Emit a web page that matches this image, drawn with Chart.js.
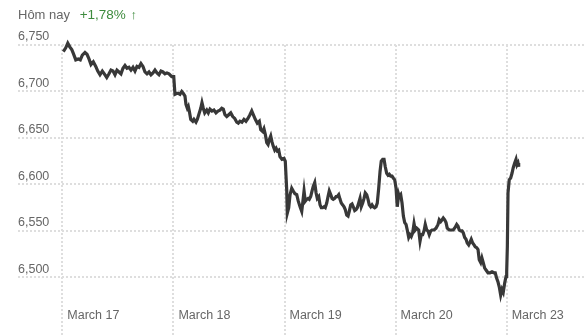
<!DOCTYPE html>
<html>
<head>
<meta charset="utf-8">
<script src="https://cdn.jsdelivr.net/npm/chart.js@4.4.1/dist/chart.umd.min.js"></script>
<style>
  html, body { margin: 0; padding: 0; background: #fff; }
  #wrap { position: relative; width: 586px; height: 336px; }
  #head {
    position: absolute; left: 18px; top: 6px;
    font-family: "Liberation Sans", Arial, sans-serif; font-size: 13px; line-height: 18px;
    color: #666; white-space: nowrap;
  }
  #head .chg { color: #3d8b3d; margin-left: 6px; font-size: 13.5px; }
  #head .arr { font-size: 13px; font-weight: bold; margin-left: 1px; }
</style>
</head>
<body>
<div id="wrap">
  <canvas id="chart"></canvas>
  <div id="head">Hôm nay <span class="chg">+1,78% <span class="arr">&#8593;</span></span></div>
</div>
<script>
// day labels (tick at the open of each trading day)
const days = ['March 17', 'March 18', 'March 19', 'March 20', 'March 23'];
const yTicks = [6500, 6550, 6600, 6650, 6700, 6750];

// time in trading days since March 17 open
const times = [
  0.009, 0.031, 0.049, 0.067, 0.085, 0.099, 0.121, 0.144, 0.162, 0.180, 0.204, 0.222, 0.240, 0.258,
  0.279, 0.301, 0.319, 0.339, 0.360, 0.378, 0.400, 0.420, 0.438, 0.456, 0.474, 0.492, 0.510, 0.528,
  0.546, 0.564, 0.582, 0.600, 0.618, 0.636, 0.654, 0.672, 0.690, 0.708, 0.726, 0.744, 0.762, 0.780,
  0.798, 0.816, 0.834, 0.852, 0.870, 0.888, 0.906, 0.924, 0.942, 0.960, 0.985, 1.003,
  1.014, 1.032, 1.044, 1.059, 1.075, 1.089, 1.104, 1.113, 1.125, 1.134, 1.143, 1.156, 1.174, 1.185,
  1.203, 1.215, 1.233, 1.246, 1.257, 1.269, 1.282, 1.300, 1.314, 1.329, 1.347, 1.365, 1.383, 1.401,
  1.419, 1.435, 1.449, 1.464, 1.480, 1.498, 1.516, 1.534, 1.552, 1.570, 1.584, 1.599, 1.617, 1.635,
  1.653, 1.671, 1.689, 1.705, 1.719, 1.737, 1.755, 1.773, 1.786, 1.804, 1.815, 1.827, 1.840, 1.852,
  1.863, 1.876, 1.887, 1.899, 1.912, 1.924, 1.935, 1.948, 1.959, 1.977, 1.995, 2.007, 2.020,
  2.025, 2.038, 2.050, 2.065, 2.079, 2.094, 2.110, 2.124, 2.140, 2.155, 2.164, 2.176, 2.187, 2.200,
  2.212, 2.223, 2.236, 2.248, 2.259, 2.272, 2.284, 2.295, 2.308, 2.320, 2.331, 2.344, 2.356, 2.367,
  2.380, 2.392, 2.403, 2.416, 2.428, 2.439, 2.452, 2.464, 2.475, 2.488, 2.500, 2.511, 2.524, 2.536,
  2.547, 2.560, 2.572, 2.583, 2.596, 2.608, 2.619, 2.632, 2.644, 2.655, 2.668, 2.680, 2.691, 2.704,
  2.716, 2.727, 2.740, 2.752, 2.763, 2.776, 2.788, 2.799, 2.812, 2.824, 2.835, 2.848, 2.860, 2.871,
  2.884, 2.896, 2.907, 2.920, 2.932, 2.943, 2.956, 2.968, 2.979, 2.992, 3.004, 3.015, 3.028,
  3.033, 3.046, 3.058, 3.070, 3.082, 3.094, 3.105, 3.118, 3.130, 3.141, 3.154, 3.166, 3.177, 3.190,
  3.208, 3.220, 3.231, 3.244, 3.256, 3.267, 3.280, 3.292, 3.303, 3.316, 3.328, 3.346, 3.364, 3.382,
  3.393, 3.406, 3.418, 3.429, 3.442, 3.454, 3.465, 3.483, 3.501, 3.519, 3.537, 3.550, 3.562, 3.573,
  3.586, 3.598, 3.609, 3.622, 3.634, 3.645, 3.658, 3.670, 3.681, 3.694, 3.706, 3.717, 3.730, 3.742,
  3.753, 3.766, 3.777, 3.789, 3.802, 3.814, 3.832, 3.850, 3.868, 3.886, 3.897, 3.910, 3.922, 3.933,
  3.946, 3.958, 3.969, 3.982, 3.994,
  4.000, 4.006, 4.012, 4.023, 4.036, 4.048, 4.059, 4.072, 4.084, 4.093, 4.102, 4.108
];

// S&P 500 level at each time
const prices = [
  6743, 6747, 6752, 6748, 6745, 6741, 6734, 6735, 6734, 6739, 6742, 6740, 6735, 6729,
  6732, 6727, 6722, 6718, 6722, 6719, 6715, 6719, 6723, 6722, 6718, 6723, 6721, 6719,
  6725, 6728, 6725, 6726, 6723, 6726, 6722, 6727, 6726, 6730, 6727, 6721, 6719, 6721,
  6718, 6720, 6723, 6720, 6718, 6722, 6721, 6719, 6720, 6719, 6716, 6716,
  6697, 6698, 6698, 6697, 6700, 6698, 6695, 6686, 6682, 6684, 6679, 6670, 6668, 6670,
  6667, 6670, 6677, 6682, 6688, 6682, 6677, 6680, 6677, 6681, 6679, 6680, 6677, 6679,
  6680, 6682, 6681, 6675, 6673, 6675, 6677, 6673, 6671, 6667, 6666, 6668, 6667, 6670,
  6668, 6671, 6675, 6679, 6675, 6670, 6666, 6668, 6659, 6657, 6660, 6654, 6645, 6643,
  6648, 6652, 6646, 6641, 6637, 6639, 6636, 6637, 6630, 6627, 6628, 6625, 6594,
  6569, 6575, 6589, 6596, 6593, 6590, 6589, 6582, 6576, 6571, 6580, 6593, 6582, 6584,
  6585, 6584, 6587, 6593, 6598, 6602, 6591, 6585, 6587, 6578, 6575, 6575, 6576, 6575,
  6580, 6587, 6593, 6589, 6585, 6584, 6585, 6587, 6587, 6589, 6584, 6580, 6578, 6576,
  6573, 6567, 6566, 6571, 6578, 6579, 6576, 6572, 6573, 6575, 6580, 6585, 6576, 6580,
  6585, 6591, 6589, 6584, 6578, 6576, 6578, 6576, 6575, 6576, 6580, 6596, 6614, 6625,
  6627, 6627, 6619, 6612, 6610, 6611, 6609, 6609, 6607, 6605, 6596, 6576, 6589,
  6587, 6589, 6580, 6566, 6559, 6557, 6551, 6543, 6546, 6544, 6548, 6558, 6551, 6553,
  6551, 6539, 6546, 6546, 6550, 6557, 6551, 6550, 6546, 6550, 6551, 6551, 6553, 6557,
  6562, 6560, 6562, 6564, 6562, 6559, 6553, 6551, 6551, 6551, 6554, 6557, 6555, 6551,
  6550, 6550, 6548, 6543, 6541, 6537, 6535, 6538, 6541, 6537, 6535, 6533, 6532, 6530,
  6519, 6516, 6521, 6516, 6510, 6508, 6505, 6505, 6506, 6505, 6505, 6499, 6495, 6490,
  6481, 6487, 6484, 6494, 6501,
  6506, 6533, 6591, 6605, 6607, 6612, 6618, 6623, 6627, 6621, 6623, 6619
];

const tickFont = { family: '"Liberation Sans", Arial, sans-serif', size: 12.5 };
const gridStyle = {
  color: '#dedede',
  lineWidth: 2,
  drawTicks: false
};
const borderStyle = { display: false, dash: [2, 2] };

new Chart(document.getElementById('chart'), {
  type: 'line',
  data: {
    datasets: [{
      data: times.map((t, i) => ({ x: t, y: prices[i] })),
      borderColor: '#383838',
      borderWidth: 3.2,
      pointRadius: 0,
      tension: 0,
      fill: false,
      clip: 10
    }]
  },
  options: {
    responsive: true,
    maintainAspectRatio: false,
    animation: false,
    layout: { padding: { top: 45, left: 18, right: 0, bottom: 0 } },
    plugins: { legend: { display: false }, tooltip: { enabled: false } },
    scales: {
      x: {
        type: 'linear',
        min: -0.399,
        max: 4.714,
        border: borderStyle,
        grid: gridStyle,
        afterBuildTicks: (scale) => { scale.ticks = days.map((d, i) => ({ value: i })); },
        // labels sit inside the plot, so the axis takes no room
        afterFit: (scale) => { scale.height = 0; },
        ticks: {
          mirror: true,
          align: 'start',
          labelOffset: 5,
          padding: 12.5,
          color: '#666',
          font: tickFont,
          callback: (v) => days[v]
        }
      },
      y: {
        min: 6437,
        max: 6750,
        border: borderStyle,
        grid: gridStyle,
        afterBuildTicks: (scale) => { scale.ticks = yTicks.map(v => ({ value: v })); },
        afterFit: (scale) => { scale.paddingTop = 0; scale.paddingBottom = 0; },
        ticks: {
          mirror: true,
          padding: 0,
          labelOffset: -8,
          color: '#666',
          font: tickFont,
          callback: (v) => v.toLocaleString('en-US')
        }
      }
    }
  }
});
</script>
</body>
</html>
